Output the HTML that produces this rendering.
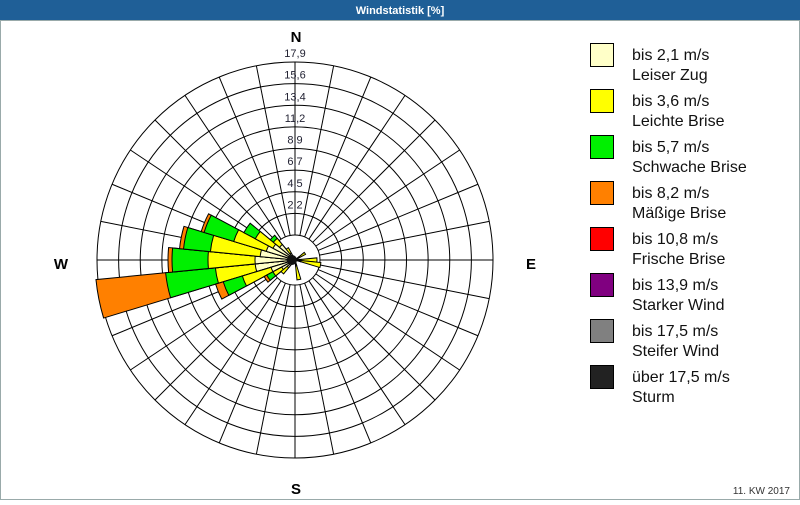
<!DOCTYPE html>
<html><head><meta charset="utf-8"><style>
body{margin:0;width:800px;height:500px;overflow:hidden;background:#fff;font-family:"Liberation Sans","DejaVu Sans",sans-serif}
</style></head><body>
<svg id="s" width="800" height="500" xmlns="http://www.w3.org/2000/svg" font-family="Liberation Sans, DejaVu Sans, sans-serif">
<rect x="0" y="0" width="800" height="500" fill="#fff"/>
<rect x="0" y="0" width="800" height="20" fill="#1f5f97"/>
<text x="400" y="14" fill="#fff" font-size="11" font-weight="bold" text-anchor="middle">Windstatistik [%]</text>
<rect x="0.5" y="20.5" width="799" height="479" fill="none" stroke="#9aa" stroke-width="1"/>
<g id="g"></g>
<text x="296" y="42" font-size="15" font-weight="bold" text-anchor="middle">N</text>
<text x="296" y="494" font-size="15" font-weight="bold" text-anchor="middle">S</text>
<text x="61" y="269" font-size="15" font-weight="bold" text-anchor="middle">W</text>
<text x="531" y="269" font-size="15" font-weight="bold" text-anchor="middle">E</text>
<g id="lab" font-size="11" text-anchor="middle" fill="#223"></g>
<g id="leg" font-size="16" fill="#111"></g>
<text x="790" y="494" font-size="10" text-anchor="end" fill="#333">11. KW 2017</text>
</svg>
<script>
var cx=295,cy=260,R0=25,R=198;
var g=document.getElementById('g'),h='';
for(var k=1;k<=8;k++){var r=R0+(R-R0)*k/8;h+='<circle cx="'+cx+'" cy="'+cy+'" r="'+r+'" fill="none" stroke="#000" stroke-width="1"/>';}
h+='<circle cx="'+cx+'" cy="'+cy+'" r="'+R0+'" fill="none" stroke="#000"/>';
function pt(a,r){var t=(a-90)*Math.PI/180;return [cx+r*Math.cos(t),cy+r*Math.sin(t)];}
for(var i=0;i<32;i++){var a=i*11.25,p=pt(a,R0),q=pt(a,R);h+='<line x1="'+p[0]+'" y1="'+p[1]+'" x2="'+q[0]+'" y2="'+q[1]+'" stroke="#000"/>';}
var cols=['#ffffc8','#ffff00','#00f000','#ff8000'];
var data=[[258.75,[40,80,130,200]],[270,[40,87,123,127]],[281.25,[35,85,112,116]],[292.5,[30,64,95,98]],[303.75,[25,45,58]],[315,[20,28,32]],[247.5,[25,55,75,83]],[236.25,[15,25,32,35]],[225,[10,18]],[90,[6,22]],[101.25,[6,26]],[168.75,[6,20]],[326.25,[8,14]],[56.25,[5,12]]];
var w=5.625;
data.forEach(function(d){var a=d[0],rs=d[1];for(var i=rs.length-1;i>=0;i--){var r=rs[i],p1=pt(a-w,r),p2=pt(a+w,r);
h+='<path d="M'+cx+' '+cy+'L'+p1[0]+' '+p1[1]+'A'+r+' '+r+' 0 0 1 '+p2[0]+' '+p2[1]+'Z" fill="'+cols[i]+'" stroke="#000" stroke-width="1"/>';}});
h+='<circle cx="'+(cx-3)+'" cy="'+cy+'" r="5" fill="#111"/>';
h+='<line x1="'+cx+'" y1="'+(cy-R)+'" x2="'+cx+'" y2="'+(cy-R0)+'" stroke="#000"/>';
g.innerHTML=h;
var vals=['2,2','4,5','6,7','8,9','11,2','13,4','15,6','17,9'],l='';
for(var k=1;k<=8;k++){var r=R0+(R-R0)*k/8;l+='<text x="'+cx+'" y="'+(cy-r-5)+'">'+vals[k-1]+'</text>';}
document.getElementById('lab').innerHTML=l;
var L=[['#ffffc8','bis 2,1 m/s','Leiser Zug'],['#ffff00','bis 3,6 m/s','Leichte Brise'],['#00f000','bis 5,7 m/s','Schwache Brise'],['#ff8000','bis 8,2 m/s','Mäßige Brise'],['#ff0000','bis 10,8 m/s','Frische Brise'],['#800080','bis 13,9 m/s','Starker Wind'],['#808080','bis 17,5 m/s','Steifer Wind'],['#222222','über 17,5 m/s','Sturm']],s='';
L.forEach(function(e,i){var y=43+i*46;s+='<rect x="590.5" y="'+(y+.5)+'" width="23" height="23" fill="'+e[0]+'" stroke="#000"/><text x="632" y="'+(y+17)+'">'+e[1]+'</text><text x="632" y="'+(y+37)+'">'+e[2]+'</text>';});
document.getElementById('leg').innerHTML=s;
</script>
</body></html>
